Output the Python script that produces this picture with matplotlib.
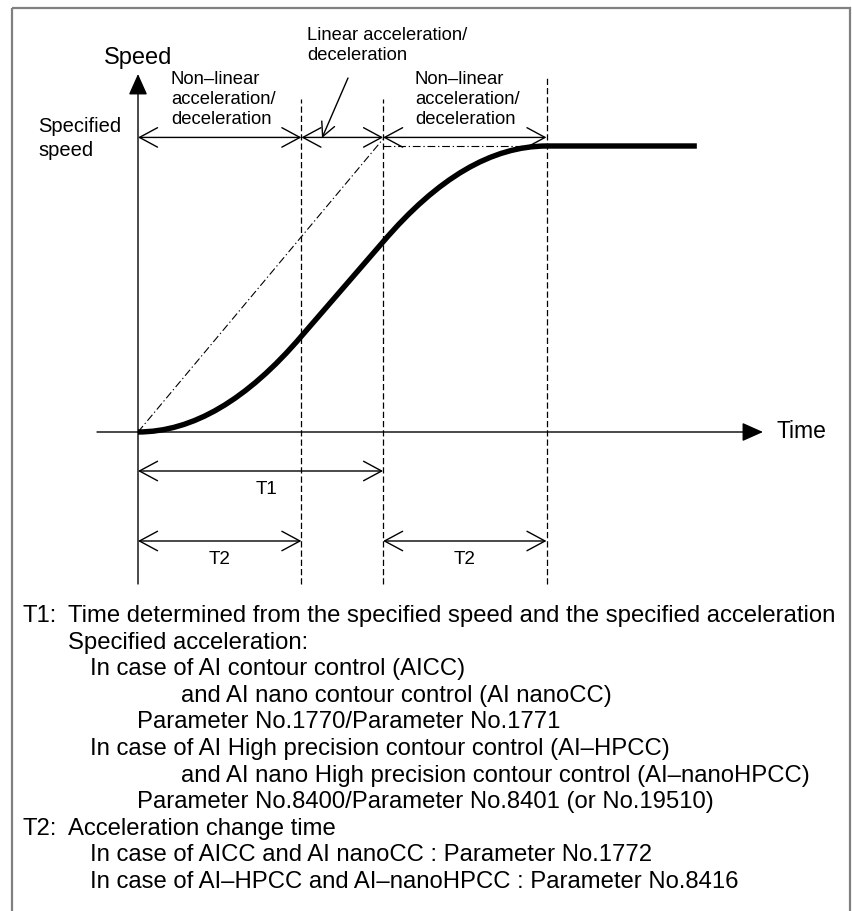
"""Speed curve for non-linear / linear acceleration (T1, T2) with notes."""

import matplotlib
matplotlib.use("Agg")
import matplotlib.pyplot as plt
from matplotlib.path import Path
from matplotlib.patches import PathPatch, Rectangle

plt.rcParams["font.family"] = ["Liberation Sans", "DejaVu Sans"]

W, H, DPI = 853, 912, 100

# ---- data (time in units of T1/3, speed in units of final speed) ----
T2 = 2.0
T1 = 3.0
SPEC_SPEED = 1.03
FINAL_SPEED = 1.0

curve_t = [0.0, 1.0, 2.0, 3.0, 4.0, 5.0, 6.84]
curve_v = [0.0, 0.0, 0.335, 0.665, 1.0, 1.0, 1.0]
curve_codes = [Path.MOVETO, Path.CURVE3, Path.CURVE3, Path.LINETO,
               Path.CURVE3, Path.CURVE3, Path.LINETO]

guide_t = [T2, T1, T1 + T2]
speed_spans = [(0.0, T2), (T2, T1), (T1, T1 + T2)]
t1_spans = [(0.0, T1)]
t2_spans = [(0.0, T2), (T1, T1 + T2)]

note_rows = [
    ("T1:", 0, "Time determined from the specified speed and the specified acceleration"),
    ("", 0, "Specified acceleration:"),
    ("", 1, "In case of AI contour control (AICC)"),
    ("", 3, "and AI nano contour control (AI nanoCC)"),
    ("", 2, "Parameter No.1770/Parameter No.1771"),
    ("", 1, "In case of AI High precision contour control (AI\u2013HPCC)"),
    ("", 3, "and AI nano High precision contour control (AI\u2013nanoHPCC)"),
    ("", 2, "Parameter No.8400/Parameter No.8401 (or No.19510)"),
    ("T2:", 0, "Acceleration change time"),
    ("", 1, "In case of AICC and AI nanoCC : Parameter No.1772"),
    ("", 1, "In case of AI\u2013HPCC and AI\u2013nanoHPCC : Parameter No.8416"),
]
note_indent = [68, 90, 137, 181]

# ---- pixel calibration of the diagram ----
ORIGIN_X, ORIGIN_Y = 138, 433
PX_PER_T, PX_PER_V = 81.7, 286.0


def v_at(py):
    return (ORIGIN_Y - py) / PX_PER_V


def t_at(px):
    return (px - ORIGIN_X) / PX_PER_T


fig = plt.figure(figsize=(W / DPI, H / DPI), dpi=DPI, facecolor="white")
ax = fig.add_axes([0, 0, 1, 1])
ax.set_xlim(t_at(0), t_at(W))
ax.set_ylim(v_at(H), v_at(0))
ax.axis("off")

lay = fig.add_axes([0, 0, 1, 1], zorder=3)
lay.set_xlim(0, W)
lay.set_ylim(H, 0)
lay.axis("off")
lay.patch.set_alpha(0)

# frame
lay.add_patch(Rectangle((12, 9), 838, 920, fill=False, ec="#808080", lw=1.6))

# axes with filled heads
axis_style = dict(arrowstyle="-|>,head_length=13,head_width=5.8",
                  mutation_scale=1, lw=1.0, color="black",
                  shrinkA=0, shrinkB=0)
ax.annotate("", xy=(0, v_at(75)), xytext=(0, v_at(585)), arrowprops=axis_style)
ax.annotate("", xy=(t_at(763), 0), xytext=(t_at(97), 0), arrowprops=axis_style)

# dashed guide lines
for t in guide_t:
    top = v_at(78) if t == T1 + T2 else v_at(100)
    ax.plot([t, t], [v_at(585), top], color="black", lw=0.9,
            linestyle=(0, (5, 2.4)))

# dash-dot reference: constant acceleration and final speed
ax.plot([0, T1], [0, v_at(140)], color="black", lw=0.8,
        linestyle=(0, (7, 2.5, 1.2, 2.5)))
ax.plot([T1, T1 + T2], [FINAL_SPEED, FINAL_SPEED], color="black", lw=0.8,
        linestyle=(0, (7, 2.5, 1.2, 2.5)))

# speed curve
curve = Path(list(zip(curve_t, curve_v)), curve_codes)
ax.add_patch(PathPatch(curve, fill=False, lw=3.9, ec="black",
                       capstyle="butt", joinstyle="round"))

# dimension arrows
dim_style = dict(arrowstyle="<->,head_length=13,head_width=7",
                 mutation_scale=1, lw=1.0, color="black",
                 shrinkA=0, shrinkB=0)
for a, b in speed_spans:
    ax.annotate("", xy=(b, SPEC_SPEED), xytext=(a, SPEC_SPEED),
                arrowprops=dim_style)
for a, b in t1_spans:
    ax.annotate("", xy=(b, v_at(472)), xytext=(a, v_at(472)),
                arrowprops=dim_style)
    ax.text((a + b) / 2 + 0.07, v_at(490), "T1", fontsize=13.6,
            ha="center", va="center")
for a, b in t2_spans:
    ax.annotate("", xy=(b, v_at(542)), xytext=(a, v_at(542)),
                arrowprops=dim_style)
    ax.text((a + b) / 2, v_at(560), "T2", fontsize=13.6,
            ha="center", va="center")

# pointer to the linear part
lay.annotate("", xy=(322, 139), xytext=(348, 79),
             arrowprops=dict(arrowstyle="->,head_length=10,head_width=5",
                             mutation_scale=1, lw=1.0, color="black",
                             shrinkA=0, shrinkB=0))

# diagram labels
lay.text(138.5, 58, "Speed", fontsize=17, ha="center", va="center")
lay.text(777, 432, "Time", fontsize=16.5, ha="left", va="center")
for i, s in enumerate(["Specified", "speed"]):
    lay.text(38, 127 + i * 24, s, fontsize=14.5, ha="left", va="center")
for x0 in (171, 415):
    for i, s in enumerate(["Non\u2013linear", "acceleration/", "deceleration"]):
        lay.text(x0, 79 + i * 20.3, s, fontsize=13.3, ha="left", va="center")
for i, s in enumerate(["Linear acceleration/", "deceleration"]):
    lay.text(307, 35 + i * 20.3, s, fontsize=13.2, ha="left", va="center")

# notes below the diagram
for i, (tag, level, s) in enumerate(note_rows):
    y = 616 + i * 26.6
    if tag:
        lay.text(23, y, tag, fontsize=17.2, ha="left", va="center")
    lay.text(note_indent[level], y, s, fontsize=17.2, ha="left", va="center")

fig.savefig("out.png", dpi=DPI, facecolor="white")
